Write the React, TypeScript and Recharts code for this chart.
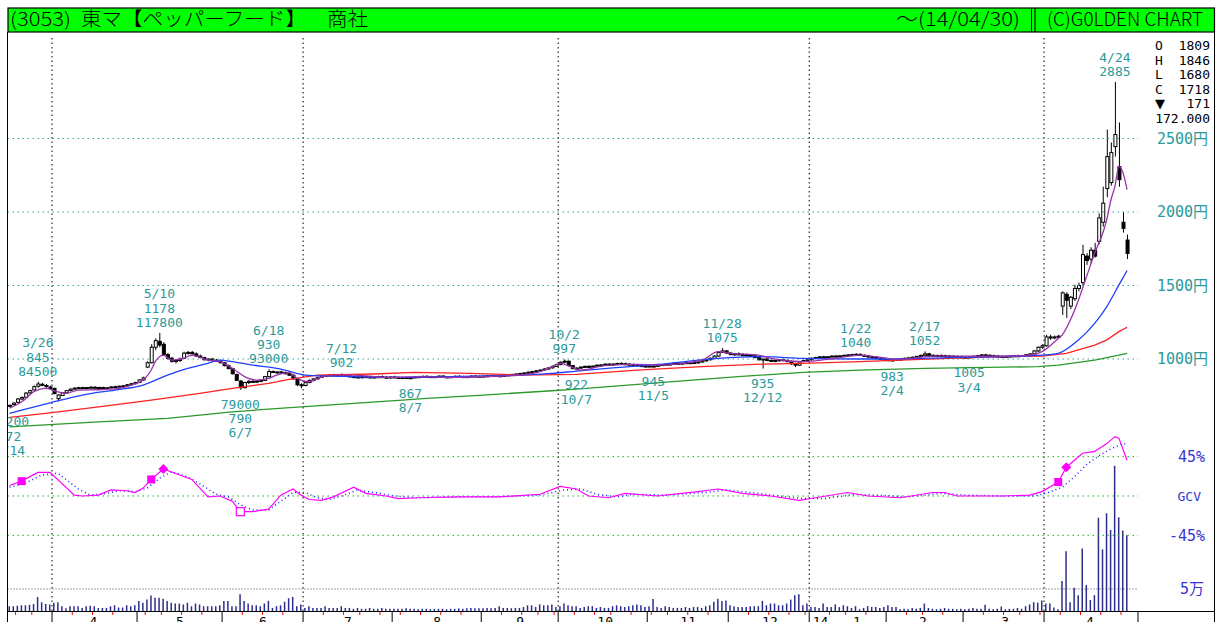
import { ComposedChart, Bar, Line, Scatter, XAxis, YAxis, ReferenceLine } from "recharts"

// daily candles, 2013/3/14 .. 2014/4/30 (index 0..276)
const OPEN = [
  680, 690, 705, 728, 740, 770, 790, 815, 828, 820,
  810, 800, 730, 752, 770, 785, 795, 802, 805, 800,
  806, 808, 804, 806, 802, 805, 810, 812, 815, 818,
  825, 832, 840, 858, 945, 975, 1080, 1120, 1100, 1030,
  1005, 985, 990, 1005, 1040, 1045, 1035, 1020, 1010, 995,
  1000, 992, 985, 975, 955, 935, 895, 850, 805, 840,
  848, 845, 850, 855, 880, 915, 910, 912, 908, 900,
  890, 865, 825, 820, 840, 855, 865, 875, 885, 888,
  892, 890, 895, 890, 885, 880, 878, 875, 880, 878,
  872, 878, 880, 876, 874, 878, 875, 872, 874, 871,
  873, 878, 880, 882, 880, 878, 880, 884, 878, 876,
  880, 882, 880, 878, 880, 884, 882, 880, 884, 886,
  888, 886, 884, 888, 892, 895, 898, 902, 905, 910,
  915, 920, 925, 932, 940, 950, 962, 978, 985, 955,
  935, 938, 945, 950, 948, 952, 958, 960, 965, 962,
  966, 970, 968, 965, 962, 960, 955, 952, 950, 952,
  950, 958, 962, 965, 966, 970, 968, 972, 975, 972,
  976, 980, 988, 995, 1005, 1020, 1045, 1055, 1040, 1030,
  1035, 1030, 1028, 1025, 1022, 1010, 995, 1000, 990, 985,
  990, 995, 990, 982, 968, 958, 985, 990, 995, 1005,
  1010, 1015, 1012, 1016, 1020, 1018, 1022, 1025, 1028, 1030,
  1032, 1025, 1020, 1015, 1010, 1005, 1000, 995, 990, 994,
  998, 1000, 1005, 1008, 1012, 1018, 1025, 1035, 1025, 1020,
  1024, 1022, 1020, 1018, 1016, 1014, 1012, 1010, 1014, 1018,
  1024, 1028, 1025, 1022, 1020, 1018, 1016, 1018, 1020, 1022,
  1020, 1024, 1025, 1035, 1055, 1080, 1090, 1150, 1145, 1150,
  1360, 1440, 1360, 1410, 1480, 1520, 1700, 1680, 1740, 1800,
  1930, 2160, 2200, 2445, 2309, 1930, 1809,
]
const HIGH = [
  690, 705, 735, 745, 775, 790, 820, 845, 838, 830,
  818, 805, 760, 775, 790, 800, 808, 812, 812, 810,
  815, 815, 812, 812, 810, 814, 818, 820, 822, 830,
  838, 845, 862, 880, 985, 1100, 1140, 1178, 1115, 1040,
  1015, 1000, 1010, 1050, 1055, 1055, 1045, 1030, 1015, 1005,
  1008, 1000, 995, 980, 962, 940, 900, 858, 845, 858,
  860, 855, 862, 885, 930, 922, 918, 920, 915, 910,
  895, 870, 835, 845, 860, 870, 880, 890, 895, 898,
  900, 898, 902, 898, 892, 888, 886, 884, 888, 885,
  882, 886, 888, 885, 882, 886, 882, 880, 880, 876,
  882, 886, 888, 890, 886, 885, 888, 890, 884, 884,
  888, 890, 886, 885, 888, 890, 888, 888, 890, 894,
  895, 892, 892, 896, 900, 902, 906, 910, 915, 920,
  925, 930, 938, 945, 955, 968, 985, 997, 990, 960,
  945, 950, 955, 958, 956, 962, 966, 970, 972, 970,
  975, 978, 975, 972, 970, 966, 962, 958, 956, 958,
  962, 966, 970, 972, 975, 978, 976, 980, 982, 980,
  985, 990, 1000, 1010, 1025, 1050, 1075, 1062, 1048, 1042,
  1045, 1040, 1038, 1035, 1030, 1018, 1005, 1010, 998, 995,
  1000, 1002, 998, 990, 975, 985, 995, 1000, 1010, 1015,
  1020, 1022, 1020, 1025, 1028, 1026, 1030, 1034, 1036, 1040,
  1038, 1032, 1028, 1022, 1018, 1012, 1008, 1002, 998, 1002,
  1006, 1010, 1014, 1018, 1022, 1030, 1052, 1042, 1032, 1030,
  1032, 1030, 1028, 1026, 1024, 1022, 1020, 1018, 1022, 1028,
  1034, 1036, 1032, 1030, 1028, 1025, 1024, 1026, 1028, 1030,
  1028, 1034, 1040, 1060, 1085, 1100, 1165, 1165, 1160, 1165,
  1460, 1455, 1430, 1505, 1520, 1777, 1720, 1760, 1790, 1990,
  2172, 2561, 2473, 2885, 2609, 2000, 1846,
]
const LOW = [
  672, 685, 700, 720, 735, 760, 785, 805, 815, 805,
  795, 760, 712, 748, 765, 780, 790, 795, 796, 794,
  800, 800, 798, 798, 796, 800, 804, 806, 808, 812,
  820, 828, 838, 852, 940, 970, 1060, 1080, 1020, 995,
  975, 970, 980, 1000, 1030, 1030, 1015, 1005, 990, 985,
  988, 980, 970, 950, 930, 895, 850, 790, 800, 830,
  838, 836, 842, 850, 875, 905, 900, 902, 895, 885,
  860, 815, 800, 815, 835, 848, 860, 870, 878, 880,
  885, 882, 885, 880, 876, 870, 868, 866, 872, 868,
  865, 870, 872, 868, 866, 870, 868, 868, 869, 867,
  870, 872, 874, 876, 874, 872, 875, 876, 872, 870,
  874, 876, 874, 872, 874, 878, 876, 874, 878, 880,
  882, 880, 878, 882, 886, 888, 892, 896, 900, 905,
  908, 912, 920, 926, 935, 945, 958, 970, 950, 930,
  922, 932, 938, 942, 940, 945, 950, 952, 956, 955,
  960, 962, 960, 958, 955, 950, 948, 946, 946, 945,
  948, 952, 956, 958, 960, 962, 960, 966, 968, 965,
  970, 975, 982, 990, 1000, 1015, 1040, 1035, 1025, 1022,
  1025, 1020, 1018, 1015, 1005, 990, 935, 985, 980, 978,
  982, 985, 978, 960, 945, 955, 978, 984, 990, 998,
  1002, 1005, 1004, 1010, 1012, 1010, 1015, 1018, 1020, 1022,
  1020, 1015, 1010, 1005, 1000, 995, 990, 986, 983, 988,
  990, 995, 998, 1002, 1006, 1012, 1020, 1020, 1015, 1012,
  1016, 1014, 1012, 1010, 1008, 1006, 1006, 1005, 1008, 1012,
  1018, 1020, 1018, 1015, 1014, 1012, 1010, 1012, 1014, 1016,
  1014, 1018, 1018, 1030, 1048, 1070, 1085, 1130, 1135, 1140,
  1300, 1280, 1340, 1395, 1460, 1500, 1640, 1650, 1690, 1780,
  1900, 2100, 2180, 2377, 2172, 1860, 1680,
]
const CLOSE = [
  685, 700, 728, 738, 768, 785, 812, 830, 822, 812,
  800, 765, 755, 770, 785, 795, 802, 805, 800, 806,
  808, 804, 806, 802, 805, 810, 812, 815, 818, 825,
  832, 840, 858, 872, 975, 1080, 1125, 1095, 1030, 1005,
  985, 990, 1000, 1040, 1045, 1035, 1020, 1010, 995, 1000,
  992, 985, 975, 955, 935, 900, 855, 805, 840, 848,
  845, 850, 855, 880, 915, 910, 912, 908, 900, 890,
  865, 825, 820, 840, 855, 865, 875, 885, 888, 892,
  890, 895, 890, 885, 880, 878, 875, 880, 878, 872,
  878, 880, 876, 874, 878, 875, 872, 874, 871, 873,
  878, 880, 882, 880, 878, 880, 884, 878, 876, 880,
  882, 880, 878, 880, 884, 882, 880, 884, 886, 888,
  886, 884, 888, 892, 895, 898, 902, 905, 910, 915,
  920, 925, 932, 940, 950, 962, 978, 985, 955, 935,
  938, 945, 950, 948, 952, 958, 960, 965, 962, 966,
  970, 968, 965, 962, 960, 955, 952, 950, 952, 950,
  958, 962, 965, 966, 970, 968, 972, 975, 972, 976,
  980, 988, 995, 1005, 1020, 1045, 1055, 1040, 1030, 1035,
  1030, 1028, 1025, 1022, 1010, 995, 1000, 990, 985, 990,
  995, 990, 982, 968, 958, 980, 990, 995, 1005, 1010,
  1015, 1012, 1016, 1020, 1018, 1022, 1025, 1028, 1030, 1032,
  1025, 1020, 1015, 1010, 1005, 1000, 995, 990, 994, 998,
  1000, 1005, 1008, 1012, 1018, 1025, 1035, 1025, 1020, 1024,
  1022, 1020, 1018, 1016, 1014, 1012, 1010, 1014, 1018, 1024,
  1028, 1025, 1022, 1020, 1018, 1016, 1018, 1020, 1022, 1020,
  1024, 1030, 1035, 1055, 1080, 1090, 1150, 1145, 1150, 1155,
  1450, 1400, 1420, 1480, 1500, 1710, 1670, 1740, 1700, 1960,
  2060, 2377, 2404, 2527, 2220, 1889, 1718,
]
// volume, thousand shares
const VOLUME = [
  11, 11, 12, 13, 13, 14, 16, 32, 20, 16,
  15, 19, 20, 11, 6, 11, 11, 11, 7, 11,
  12, 11, 7, 7, 7, 11, 13, 8, 8, 13,
  11, 13, 23, 19, 26, 35, 30, 30, 28, 23,
  19, 17, 17, 15, 19, 11, 17, 15, 11, 11,
  11, 11, 13, 23, 23, 11, 11, 38, 23, 17,
  13, 13, 11, 17, 23, 7, 11, 13, 21, 29,
  32, 11, 15, 7, 11, 7, 7, 7, 11, 7,
  7, 7, 11, 7, 7, 5, 7, 5, 5, 7,
  5, 5, 7, 5, 5, 5, 5, 5, 6, 5,
  5, 4, 5, 5, 4, 5, 5, 5, 4, 5,
  5, 6, 5, 6, 7, 6, 6, 6, 7, 6,
  7, 11, 7, 7, 6, 7, 7, 9, 13, 13,
  9, 15, 13, 13, 15, 9, 11, 17, 13, 11,
  11, 7, 9, 11, 11, 7, 9, 7, 7, 11,
  13, 11, 9, 11, 13, 15, 13, 9, 11, 27,
  9, 7, 11, 9, 7, 7, 7, 9, 7, 9,
  9, 7, 11, 13, 21, 28, 23, 24, 13, 11,
  9, 9, 9, 11, 11, 11, 23, 13, 17, 17,
  13, 13, 17, 26, 36, 38, 13, 17, 9, 9,
  7, 17, 9, 9, 15, 9, 13, 11, 7, 11,
  4, 7, 11, 9, 9, 7, 9, 13, 9, 9,
  4, 5, 4, 7, 5, 7, 17, 7, 5, 4,
  5, 7, 5, 5, 4, 5, 4, 5, 7, 5,
  5, 14, 5, 4, 5, 10, 4, 5, 5, 7,
  5, 11, 15, 20, 19, 24, 17, 17, 8, 4,
  68, 136, 20, 53, 36, 142, 59, 25, 36, 212,
  140, 222, 184, 330, 213, 183, 172,
]

// moving averages (day index -> yen)
const MA5_DAYS = [0, 3, 6, 9, 12, 14, 17, 22, 27, 30, 33, 35, 36, 38, 40, 43, 45, 49, 52, 55, 59, 61, 64, 66, 69, 71, 74, 76, 80, 85, 93, 101, 109, 117, 126, 131, 134, 136, 139, 141, 147, 155, 160, 171, 175, 178, 185, 188, 196, 204, 210, 214, 220, 228, 236, 245, 252, 255, 259, 260, 262, 264, 266, 268, 270, 271, 272, 273, 274, 275, 276]
const MA5_VALS = [666, 709, 777, 800, 777, 766, 789, 791, 800, 823, 857, 925, 982, 1027, 993, 1005, 1027, 993, 982, 937, 868, 857, 868, 891, 907, 868, 845, 868, 891, 891, 875, 880, 875, 880, 891, 914, 948, 971, 943, 925, 955, 964, 959, 993, 1050, 1039, 1027, 1005, 982, 1005, 1027, 1016, 998, 1020, 1020, 1020, 1027, 1050, 1140, 1164, 1266, 1402, 1561, 1720, 1857, 1950, 2080, 2175, 2311, 2266, 2152]
const MA25_DAYS = [0, 3, 10, 18, 26, 33, 39, 44, 49, 52, 55, 60, 66, 68, 73, 80, 93, 109, 126, 134, 140, 147, 163, 175, 185, 196, 210, 220, 232, 245, 255, 259, 264, 268, 271, 274, 276]
const MA25_VALS = [630, 652, 702, 755, 789, 823, 891, 937, 971, 993, 982, 959, 937, 925, 891, 884, 875, 880, 891, 902, 918, 935, 971, 1005, 1016, 1005, 1000, 1000, 1010, 1016, 1027, 1039, 1130, 1243, 1357, 1504, 1602]
const MA75_DAYS = [0, 10, 22, 35, 47, 55, 64, 69, 76, 90, 100, 114, 126, 140, 155, 171, 184, 196, 210, 220, 232, 245, 255, 261, 268, 271, 274, 276]
const MA75_VALS = [603, 634, 675, 720, 766, 800, 834, 862, 891, 898, 909, 902, 891, 896, 925, 948, 964, 971, 982, 993, 1005, 1016, 1020, 1039, 1095, 1130, 1186, 1216]
const MA200_DAYS = [0, 22, 39, 55, 72, 97, 103, 117, 134, 140, 163, 180, 196, 210, 226, 254, 259, 268, 274, 276]
const MA200_VALS = [539, 573, 596, 641, 675, 720, 732, 755, 784, 795, 845, 880, 909, 925, 937, 948, 959, 993, 1027, 1039]

// GCV oscillator (%) and its signal
const GCV_DAYS = [0, 3, 7, 10, 16, 18, 22, 25, 29, 31, 33, 35, 38, 42, 45, 49, 52, 55, 57, 60, 64, 67, 70, 72, 74, 77, 80, 85, 88, 93, 96, 101, 111, 121, 131, 136, 140, 143, 148, 152, 160, 170, 175, 181, 188, 195, 199, 207, 212, 220, 228, 231, 234, 245, 252, 255, 259, 261, 265, 268, 271, 273, 274, 276]
const GCV_VALS = [12, 17, 27, 27, 1, 0, 1, 7, 6, 4, 9, 19, 31, 24, 19, -1, 0, -6, -18, -18, -15, 1, 8, 1, -4, -5, -1, 10, 3, 0, -3, -2, -1, -1, 2, 11, 8, 0, -2, 3, 0, 5, 8, 3, 0, -5, -2, 4, 0, -2, 4, 4, 0, 0, 1, 5, 16, 33, 49, 51, 60, 68, 66, 41]
const SIG_DAYS = [0, 4, 8, 12, 17, 20, 24, 27, 31, 34, 37, 40, 44, 47, 51, 54, 57, 60, 64, 67, 70, 73, 76, 79, 82, 86, 90, 95, 100, 110, 120, 131, 137, 141, 145, 150, 154, 162, 172, 177, 183, 190, 196, 201, 209, 214, 222, 230, 236, 246, 253, 256, 260, 263, 266, 269, 272, 275, 276]
const SIG_VALS = [10, 15, 24, 26, 8, 1, 3, 6, 5, 9, 20, 28, 22, 14, 2, -1, -10, -16, -16, -6, 4, 4, -2, -4, 0, 7, 4, 0, -2, -1, -1, 1, 7, 8, 2, -1, 2, 1, 4, 7, 4, 0, -3, -3, 2, 1, -1, 3, 1, 0, 0, 3, 10, 22, 36, 46, 54, 60, 59]
const MARK_DAYS = [3, 35, 38, 57, 259, 261]
const MARK_KINDS = ["sq", "sq", "dia", "open", "sq", "dia"]

// peak / bottom notes
const NOTE_DAYS = [0, 7, 37, 57, 64, 82, 99, 137, 140, 159, 176, 186, 209, 218, 226, 237, 273]
const NOTE_DATES = ["3/14", "3/26", "5/10", "6/7", "6/18", "7/12", "8/7", "10/2", "10/7", "11/5", "11/28", "12/12", "1/22", "2/4", "2/17", "3/4", "4/24"]
const NOTE_KINDS = ["L", "H", "H", "L", "H", "H", "L", "H", "L", "L", "H", "L", "H", "L", "H", "L", "H"]
const NOTE_AMOUNT = [true, true, true, true, true, false, false, false, false, false, false, false, false, false, false, false, false]

// x axis: month starts, week starts, month labels
const XMAX = 279.2
const MONTH_STARTS = [11, 32, 53, 73, 95, 117, 136, 158, 178, 198, 217, 236, 256, XMAX]
const QUARTER_STARTS = [11, 73, 136, 198, 256]
const WEEK_STARTS = [2, 6, 16, 21, 26, 34, 38, 43, 48, 58, 63, 68, 78, 83, 87, 92, 97, 102, 107, 112, 122, 127, 131, 135, 140, 145, 149, 154, 159, 163, 168, 173, 183, 188, 193, 197, 203, 207, 212, 222, 226, 231, 241, 246, 250, 255, 260, 265, 270, 275]
const MONTH_LABEL_AT = [21.2, 42.6, 63.1, 84.1, 106.1, 126.6, 147.6, 168.1, 188.3, 200.8, 209.8, 226.1, 246.4, 267.3]
const MONTH_LABELS = ["4", "5", "6", "7", "8", "9", "10", "11", "12", "14", "1", "2", "3", "4"]

const PRICE_LINES = [1000, 1500, 2000, 2500]

const FONT = '"DejaVu Sans Mono", "Noto Sans CJK JP", monospace'
const JP = '"Noto Sans CJK JP", sans-serif'
const TEAL = "#2a9a9a"
const LBLUE = "#3535d0"

const candles = CLOSE.map((c, i) => ({
  x: i + 0.5, range: [LOW[i], HIGH[i]], o: OPEN[i], h: HIGH[i], l: LOW[i], c, vol: VOLUME[i],
}))
const pts = (days: number[], vals: number[]) => days.map((d, k) => ({ x: d + 0.5, y: vals[k] }))
const marks = MARK_DAYS.map((d, k) => ({ x: d + 0.5, y: GCV_VALS[GCV_DAYS.indexOf(d)], kind: MARK_KINDS[k] }))
const notes = NOTE_DAYS.map((d, k) => {
  const low = NOTE_KINDS[k] === "L"
  const p = low ? LOW[d] : HIGH[d]
  const lines = low ? [String(p), NOTE_DATES[k]] : [NOTE_DATES[k], String(p)]
  if (NOTE_AMOUNT[k]) low ? lines.unshift(String(p * 100)) : lines.push(String(p * 100))
  return { x: d + 0.5, y: p, low, lines }
})
const AXIS_TICKS = Array.from(new Set([...MONTH_STARTS, ...WEEK_STARTS, ...MONTH_LABEL_AT])).sort((a, b) => a - b)

function Candle(props: any) {
  const { x, y, width, height, payload } = props
  if (x == null || y == null) return null
  const top = Math.min(y, y + height)
  const span = Math.abs(height)
  const { o, h, l, c } = payload
  const py = (v: number) => (h === l ? top : top + ((h - v) / (h - l)) * span)
  const cx = x + width / 2
  const b1 = py(Math.max(o, c))
  const b2 = py(Math.min(o, c))
  return (
    <g>
      <line x1={cx} x2={cx} y1={top} y2={top + span} stroke="#000" strokeWidth={1} />
      <rect x={x} y={b1} width={width} height={Math.max(1, b2 - b1)} fill={c >= o ? "#fff" : "#000"} stroke="#000" strokeWidth={1} />
    </g>
  )
}

function Note(props: any) {
  const { cx, cy, payload } = props
  const n = payload.lines.length
  return (
    <g>
      {payload.lines.map((t: string, k: number) => (
        <text key={k} x={cx} y={payload.low ? cy + 19 + k * 14.3 : cy - 6 - (n - 1 - k) * 14.3}
          textAnchor="middle" fontSize={13} fontFamily={FONT} fill={TEAL}>{t}</text>
      ))}
    </g>
  )
}

function Mark(props: any) {
  const { cx, cy, payload } = props
  if (payload.kind === "dia") return <polygon points={`${cx},${cy - 5} ${cx + 5},${cy} ${cx},${cy + 5} ${cx - 5},${cy}`} fill="#ff00ff" />
  if (payload.kind === "open") return <rect x={cx - 4} y={cy - 4} width={8} height={8} fill="#fff" stroke="#ff00ff" strokeWidth={1.2} />
  return <rect x={cx - 4} y={cy - 4} width={8} height={8} fill="#ff00ff" />
}

function AxisTick(props: any) {
  const { x, y, payload } = props
  const v = payload.value
  const li = MONTH_LABEL_AT.indexOf(v)
  return (
    <g>
      {MONTH_STARTS.includes(v) && <line x1={x} x2={x} y1={y} y2={y + 12} stroke="#000" />}
      {!MONTH_STARTS.includes(v) && WEEK_STARTS.includes(v) && <line x1={x} x2={x} y1={y + 1} y2={y + 4} stroke="#ff0000" />}
      {li >= 0 && <text x={x} y={y + 15} textAnchor="middle" fontSize={13} fontFamily={FONT} fill="#000">{MONTH_LABELS[li]}</text>}
    </g>
  )
}

const rightLabel = (text: string, color: string, size: number, anchor: "start" | "end", dx: number) => (props: any) => {
  const vb = props.viewBox || {}
  return (
    <text x={vb.x + vb.width + dx} y={vb.y + size * 0.36} textAnchor={anchor} fontSize={size} fontFamily={FONT} fill={color}>{text}</text>
  )
}

export default function App() {
  const last = CLOSE.length - 1
  const chg = CLOSE[last] - CLOSE[last - 1]
  const ohlc: [string, number][] = [["O", OPEN[last]], ["H", HIGH[last]], ["L", LOW[last]], ["C", CLOSE[last]]]
  return (
    <div style={{ position: "absolute", left: 0, top: 0, width: 1217, height: 622, background: "#fff", overflow: "hidden" }}>
      <ComposedChart width={1217} height={622} data={candles} margin={{ top: 35, right: 79, bottom: 0, left: 7.5 }}>
        <XAxis xAxisId="a" dataKey="x" type="number" domain={[0, XMAX]} allowDataOverflow ticks={AXIS_TICKS} interval={0}
          tick={<AxisTick />} tickLine={false} axisLine={false} tickSize={0} tickMargin={0} height={11} />
        <XAxis xAxisId="c" dataKey="x" type="number" domain={[0, XMAX]} allowDataOverflow hide />
        <XAxis xAxisId="v" dataKey="x" type="number" domain={[0, XMAX]} allowDataOverflow hide />
        <YAxis yAxisId="p" type="number" domain={[-714, 3204]} allowDataOverflow hide />
        <YAxis yAxisId="g" type="number" domain={[-131.7, 527.9]} allowDataOverflow hide />
        <YAxis yAxisId="v" type="number" domain={[0, 1309]} allowDataOverflow hide />

        {QUARTER_STARTS.map(q => (
          <ReferenceLine key={"q" + q} xAxisId="a" yAxisId="p" x={q} stroke="#000" strokeDasharray="1.5 3" />
        ))}
        {PRICE_LINES.map(p => (
          <ReferenceLine key={"p" + p} xAxisId="a" yAxisId="p" y={p} stroke="#3aa0a0" strokeDasharray="1.5 3.5"
            label={rightLabel(p + "円", TEAL, 15, "start", 19)} />
        ))}
        <ReferenceLine xAxisId="a" yAxisId="g" y={45} stroke="#22aa22" strokeDasharray="1.5 3.5" label={rightLabel("45%", LBLUE, 15, "end", 67)} />
        <ReferenceLine xAxisId="a" yAxisId="g" y={0} stroke="#22aa22" strokeDasharray="1.5 3.5" label={rightLabel("GCV", LBLUE, 13, "end", 63)} />
        <ReferenceLine xAxisId="a" yAxisId="g" y={-45} stroke="#22aa22" strokeDasharray="1.5 3.5" label={rightLabel("-45%", LBLUE, 15, "end", 67)} />
        <ReferenceLine xAxisId="a" yAxisId="v" y={50} stroke="#444" strokeDasharray="1 2" label={rightLabel("5万", LBLUE, 15, "end", 66)} />

        <Bar xAxisId="v" yAxisId="v" dataKey="vol" barSize={1.5} fill="#2e2e8c" isAnimationActive={false} />

        <Line xAxisId="a" yAxisId="g" data={pts(SIG_DAYS, SIG_VALS)} dataKey="y" stroke="#2020ff" strokeWidth={1.5}
          strokeDasharray="1 3" dot={false} activeDot={false} isAnimationActive={false} type="linear" />
        <Line xAxisId="a" yAxisId="g" data={pts(GCV_DAYS, GCV_VALS)} dataKey="y" stroke="#ff00ff" strokeWidth={1.2}
          dot={false} activeDot={false} isAnimationActive={false} type="linear" />
        <Scatter xAxisId="a" yAxisId="g" data={marks} dataKey="y" shape={<Mark />} isAnimationActive={false} />

        <Line xAxisId="a" yAxisId="p" data={pts(MA200_DAYS, MA200_VALS)} dataKey="y" stroke="#2a9a2a" strokeWidth={1.3}
          dot={false} activeDot={false} isAnimationActive={false} type="linear" />
        <Line xAxisId="a" yAxisId="p" data={pts(MA75_DAYS, MA75_VALS)} dataKey="y" stroke="#ff2020" strokeWidth={1.3}
          dot={false} activeDot={false} isAnimationActive={false} type="linear" />
        <Line xAxisId="a" yAxisId="p" data={pts(MA25_DAYS, MA25_VALS)} dataKey="y" stroke="#2040ff" strokeWidth={1.3}
          dot={false} activeDot={false} isAnimationActive={false} type="monotone" />
        <Line xAxisId="a" yAxisId="p" data={pts(MA5_DAYS, MA5_VALS)} dataKey="y" stroke="#9933aa" strokeWidth={1.3}
          dot={false} activeDot={false} isAnimationActive={false} type="monotone" />

        <Bar xAxisId="c" yAxisId="p" dataKey="range" barSize={3} shape={<Candle />} isAnimationActive={false} />

        <Scatter xAxisId="a" yAxisId="p" data={notes} dataKey="y" shape={<Note />} isAnimationActive={false} />
      </ComposedChart>

      <svg width={1217} height={622} style={{ position: "absolute", left: 0, top: 0, pointerEvents: "none" }}>
        <rect x={0} y={33} width={7} height={589} fill="#fff" />
        <line x1={7.5} x2={7.5} y1={32} y2={622} stroke="#000" />
        <line x1={1214.5} x2={1214.5} y1={32} y2={622} stroke="#000" />
        <line x1={7} x2={1215} y1={611.5} y2={611.5} stroke="#000" />

        <rect x={8} y={8} width={1206.5} height={24} fill="#00ff00" stroke="#000" strokeWidth={1.2} />
        <line x1={1031.5} x2={1031.5} y1={8} y2={32} stroke="#000" />
        <line x1={1035} x2={1035} y1={8} y2={32} stroke="#000" />
        <g fontFamily={JP} fontSize={19} fontWeight={300} fill="#000">
          <text x={10} y={26} textLength={61} lengthAdjust="spacingAndGlyphs">(3053)</text>
          <text x={81} y={26} textLength={41} lengthAdjust="spacingAndGlyphs">東マ</text>
          <text x={122} y={26} textLength={184} lengthAdjust="spacingAndGlyphs">【ペッパーフード】</text>
          <text x={327} y={26} textLength={41} lengthAdjust="spacingAndGlyphs">商社</text>
          <text x={896} y={26} textLength={124} lengthAdjust="spacingAndGlyphs">～(14/04/30)</text>
          <text x={1047} y={26} textLength={156} lengthAdjust="spacingAndGlyphs">(C)G0LDEN CHART</text>
        </g>

        <g fontFamily={FONT} fontSize={13} fill="#000">
          {ohlc.map(([k, v], n) => (
            <g key={k}>
              <text x={1155} y={50 + n * 14.5}>{k}</text>
              <text x={1210} y={50 + n * 14.5} textAnchor="end">{v}</text>
            </g>
          ))}
          <text x={1155} y={108} fontSize={13} fontFamily='"DejaVu Sans", sans-serif'>▼</text>
          <text x={1210} y={108} textAnchor="end">{Math.abs(chg)}</text>
          <text x={1210} y={123} textAnchor="end">{VOLUME[last]}.000</text>
        </g>
      </svg>
    </div>
  )
}
